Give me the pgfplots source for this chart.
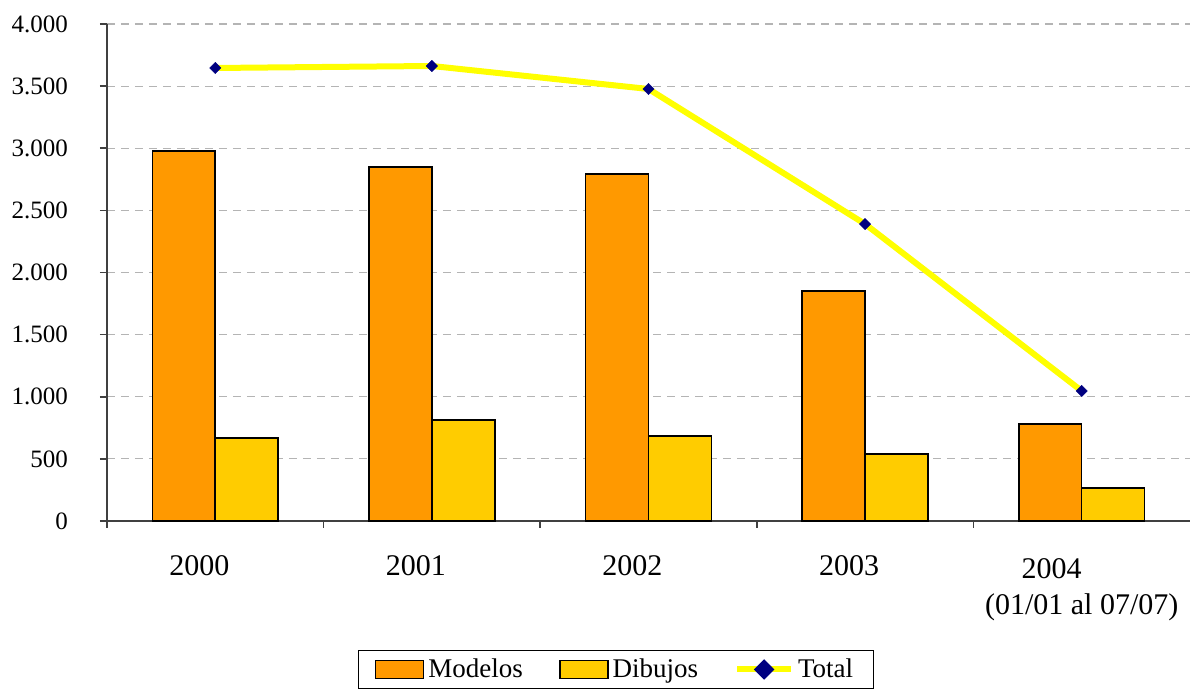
\documentclass[border=0pt]{standalone}
\usepackage{fontspec}
\setmainfont{Liberation Serif}
\usepackage{pgfplots}
\pgfplotsset{compat=1.18}
\definecolor{cModelos}{HTML}{FF9900}
\definecolor{cDibujos}{HTML}{FFCC00}
\definecolor{cTotal}{HTML}{FFFF00}
\definecolor{cMark}{HTML}{000080}
\definecolor{cGrid}{HTML}{B4B4B4}
\definecolor{cAxis}{HTML}{404040}
\begin{document}
\begin{tikzpicture}
\useasboundingbox (-53.5pt,-84.5pt) rectangle (541.5pt,260.5pt);
\begin{axis}[
  at={(0,0)}, anchor=south west,
  scale only axis,
  width=541.5pt, height=248.5pt,
  xmin=-0.5, xmax=4.5,
  ymin=0, ymax=4000,
  axis x line*=bottom, axis y line*=left,
  axis line style={cAxis, line width=0.8pt},
  xtick={0,1,2,3,4},
  xticklabels={2000\hspace*{16pt},2001\hspace*{16pt},2002\hspace*{16pt},2003\hspace*{16pt},{\begin{tabular}[t]{@{}c@{}}2004\hspace*{30pt}\\[1pt](01/01 al 07/07)\end{tabular}}},
  major x tick style={draw=none},
  minor xtick={-0.5,0.5,1.5,2.5,3.5},
  minor x tick style={cAxis, line width=0.8pt},
  minor tick length=3.5pt,
  tick align=outside,
  ytick={0,500,...,4000},
  major tick length=3.5pt,
  y tick style={cAxis, line width=0.8pt},
  ymajorgrids,
  grid style={cGrid, dash pattern=on 4pt off 3pt, line width=0.6pt},
  /pgf/number format/.cd, 1000 sep={.}, assume math mode=true, /pgfplots/.cd,
  yticklabel style={font=\rmfamily\fontsize{12.5}{14}\selectfont, xshift=-12.5pt},
  xticklabel style={font=\rmfamily\fontsize{15}{17}\selectfont, yshift=-10pt},
  legend style={at={(0.47,0)}, anchor=north, yshift=-64.5pt, legend columns=3,
     draw=black, line width=0.6pt, font=\rmfamily\fontsize{13.5}{15}\selectfont,
     inner xsep=8pt, inner ysep=2pt, /tikz/every even column/.append style={column sep=16pt}},
  clip=false,
]
\addplot[ybar, bar width=0.29, bar shift=-0.145, fill=cModelos, draw=black, line width=0.8pt,
  legend image code/.code={\draw[fill=cModelos, draw=black, line width=0.8pt] (0pt,-4.5pt) rectangle (24pt,4.5pt);}]
  coordinates {(0,2978) (1,2849) (2,2793) (3,1851) (4,781)};
\addlegendentry{Modelos}
\addplot[ybar, bar width=0.29, bar shift=0.145, fill=cDibujos, draw=black, line width=0.8pt,
  legend image code/.code={\draw[fill=cDibujos, draw=black, line width=0.8pt] (0pt,-4.5pt) rectangle (24pt,4.5pt);}]
  coordinates {(0,668) (1,813) (2,684) (3,539) (4,266)};
\addlegendentry{Dibujos}
\addplot[cTotal, line width=3pt, mark=square*, mark size=2pt,
  mark options={fill=cMark, draw=cMark, line width=0.2pt, rotate=45},
  legend image code/.code={\draw[cTotal, line width=3pt] (0pt,0pt) -- (27pt,0pt);
     \fill[cMark] (13.5pt,3pt) -- (16.5pt,0pt) -- (13.5pt,-3pt) -- (10.5pt,0pt) -- cycle;}]
  coordinates {(0,3646) (1,3662) (2,3477) (3,2390) (4,1047)};
\addlegendentry{Total}
\end{axis}
\end{tikzpicture}
\end{document}
